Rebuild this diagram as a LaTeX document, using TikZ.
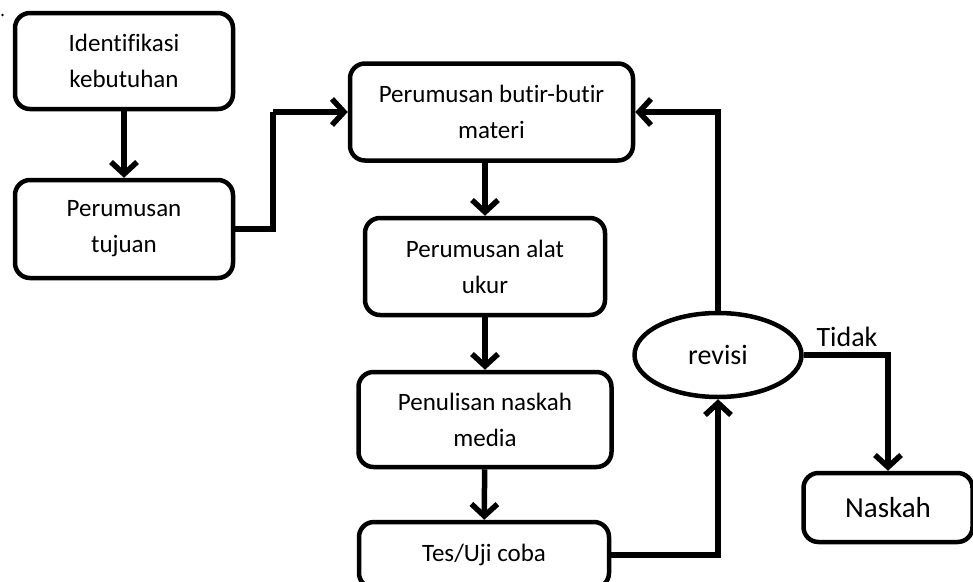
\documentclass[tikz,border=0pt]{standalone}
\usepackage{fontspec}
\setmainfont[Ligatures={NoCommon,NoRare}]{Carlito}
\usetikzlibrary{arrows.meta,shapes.geometric}
\tikzset{
  stepbox/.style={draw, line width=4.5pt, rounded corners=15pt, align=center,
    font=\fontsize{25}{36}\selectfont, inner sep=0pt},
  decision/.style={draw, ellipse, line width=4.5pt, inner sep=0pt,
    font=\fontsize{28}{34}\selectfont},
  arr/.style={line width=5.5pt, -{Straight Barb[length=12pt,width=26pt]}},
  link/.style={line width=5.5pt},
}
\begin{document}
\begin{tikzpicture}[x=1pt,y=-1pt]
  \useasboundingbox (0,0) rectangle (973,581);
  \clip (0,0) rectangle (973,581);

  % process boxes
  \node[stepbox, minimum width=218pt, minimum height=96pt] (ident) at (124,61)
    {Identifikasi\\kebutuhan};
  \node[stepbox, minimum width=218pt, minimum height=98pt] (tujuan) at (124,229)
    {Perumusan\\tujuan};
  \node[stepbox, minimum width=283pt, minimum height=97pt] (materi) at (491.5,112)
    {Perumusan butir-butir\\materi};
  \node[stepbox, minimum width=240pt, minimum height=97pt] (alat) at (485,266.5)
    {Perumusan alat\\ukur};
  \node[stepbox, minimum width=253pt, minimum height=95pt] (naskahmedia) at (485,419.5)
    {Penulisan naskah\\media};
  \node[stepbox, minimum width=250pt, minimum height=66pt] (uji) at (484,555)
    {Tes/Uji coba};
  \node[decision, minimum width=167pt, minimum height=84pt] (revisi) at (718,355)
    {revisi};
  \node[stepbox, minimum width=169pt, minimum height=69pt,
        font=\fontsize{29}{34}\selectfont] (naskah) at (888,507.5) {Naskah};

  % stray mark in the corner
  \fill (2.5,15) circle (1.3pt) coordinate (mark0);

  % connectors
  \coordinate (j1) at (273,112);
  \draw[arr] (ident) -- (tujuan);
  \draw[link] (tujuan.east) -| (j1);
  \draw[arr] (j1) -- (j1 -| materi.west);
  \draw[arr] (materi.south -| alat) -- (alat.north);
  \draw[arr] (alat) -- (naskahmedia);
  \draw[arr] (naskahmedia) -- (uji);
  \draw[arr] (uji.east) -| (revisi.south);
  \draw[arr] (revisi.north) |- (materi.east);
  \draw[arr] (revisi.east) -| (naskah.north);

  \node[font=\fontsize{28}{34}\selectfont, anchor=base] (tidak) at (847,346) {Tidak};
\end{tikzpicture}
\end{document}
